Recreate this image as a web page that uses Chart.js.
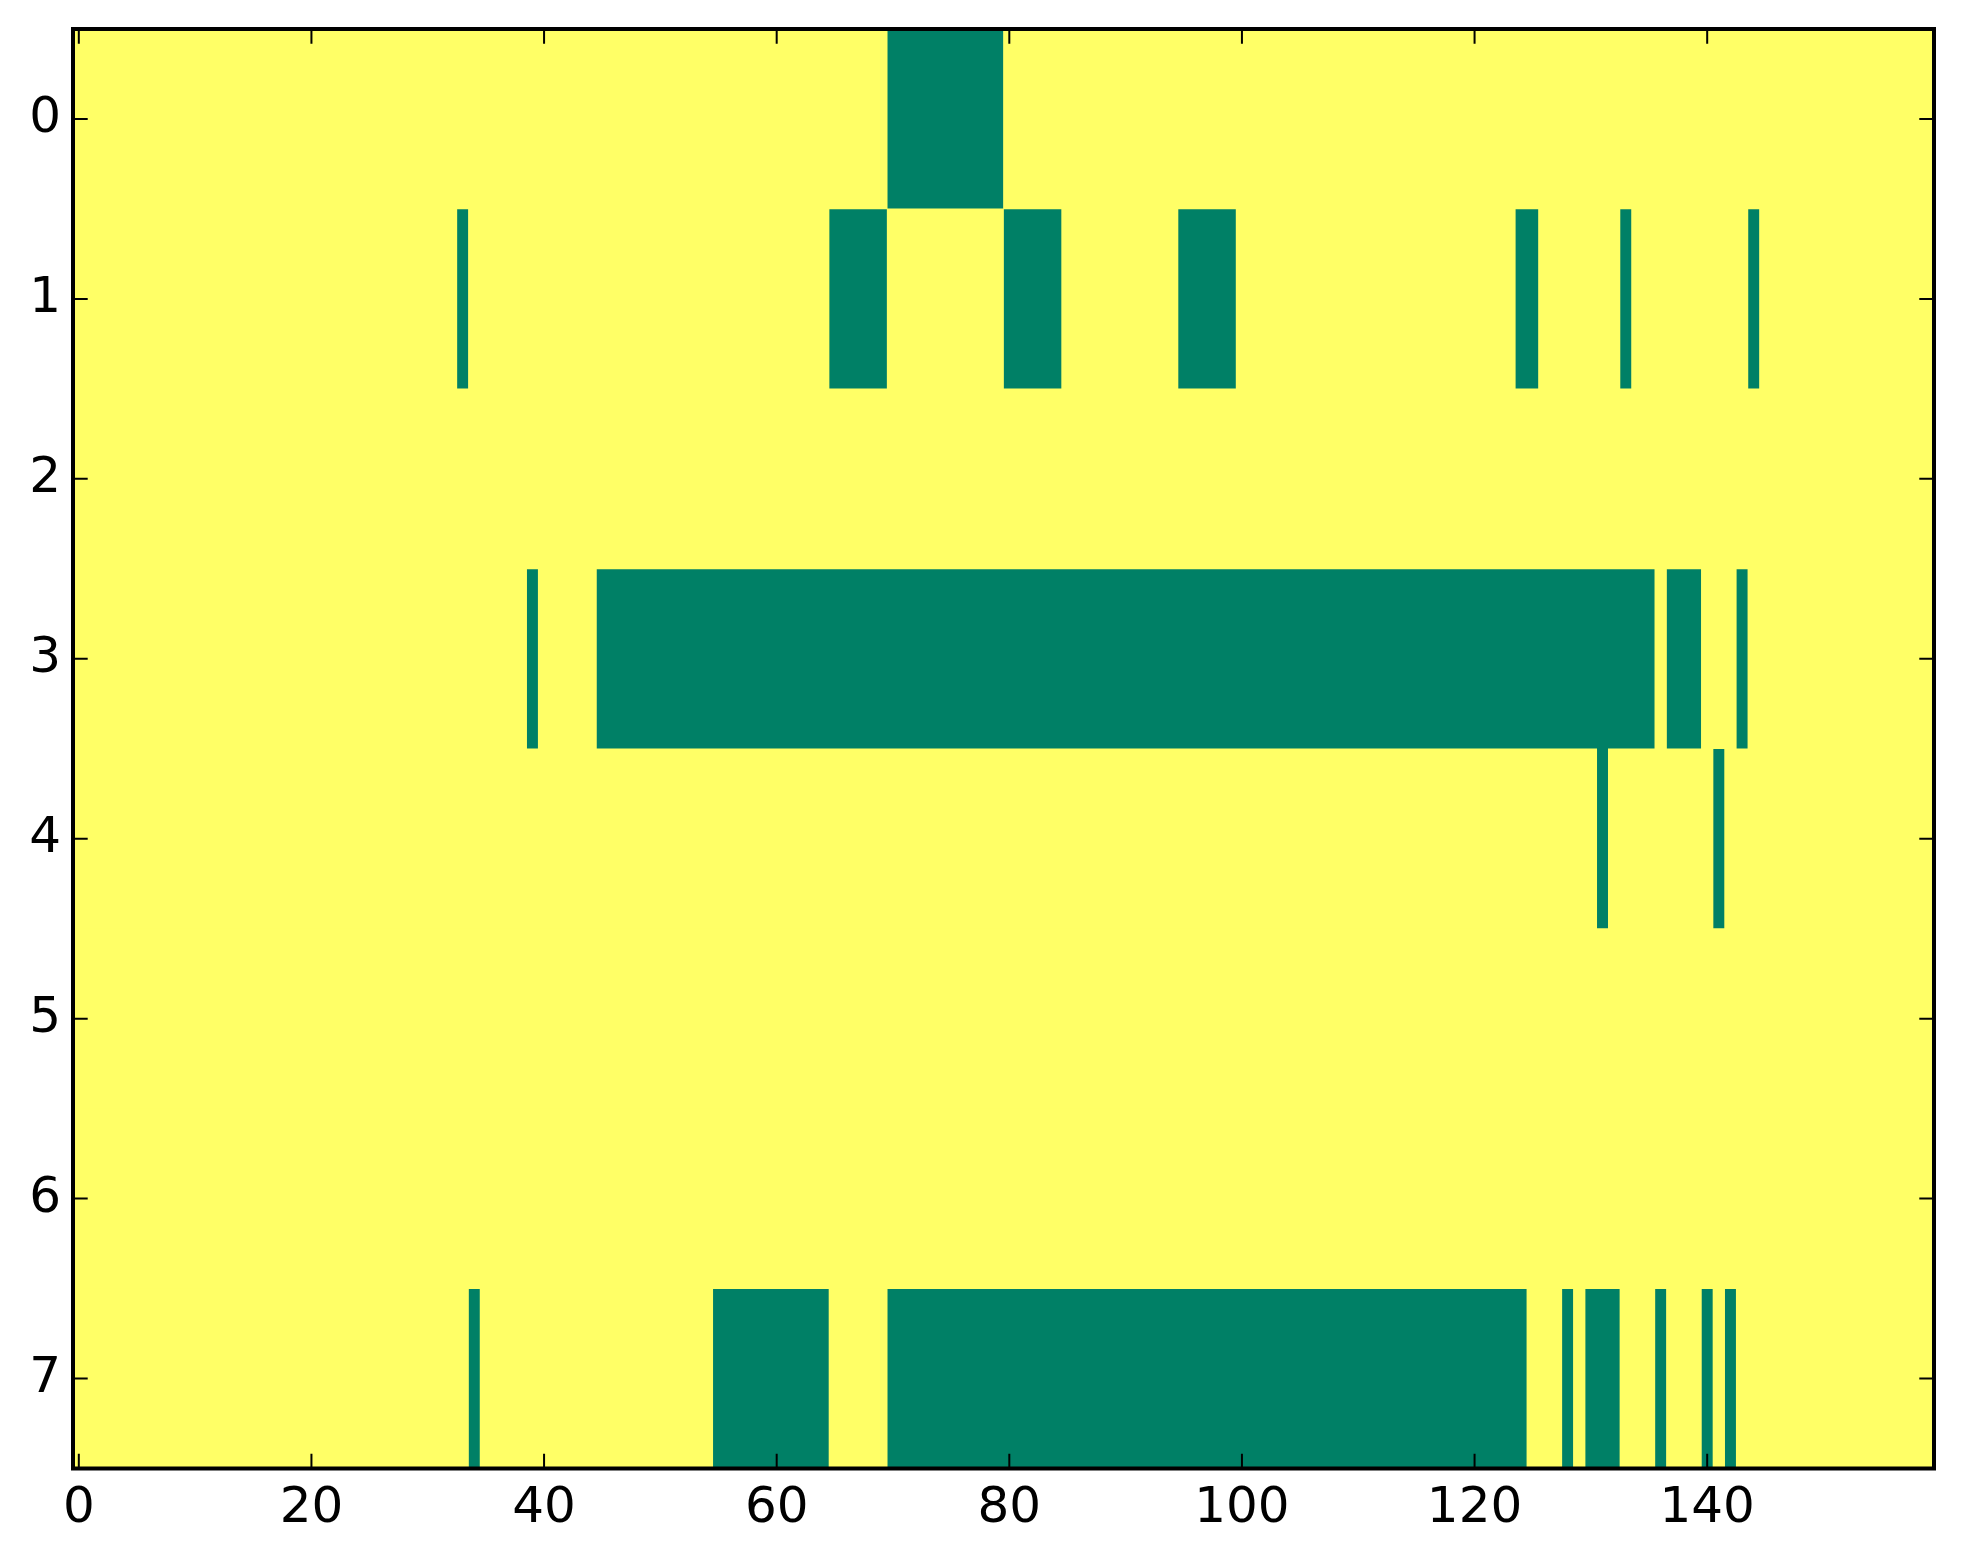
<!DOCTYPE html>
<html>
<head>
<meta charset="utf-8">
<script src="https://cdn.jsdelivr.net/npm/chart.js@4.4.1/dist/chart.umd.min.js"></script>
<style>
html,body{margin:0;padding:0;background:#fff;overflow:hidden;}
canvas{display:block;}
</style>
</head>
<body>
<canvas id="c" width="1963" height="1564"></canvas>
<script>
// ---- data ----
const rowLabels = ['0','1','2','3','4','5','6','7'];
const nCols = 160;
const xTickValues = [0,20,40,60,80,100,120,140];
// runs of green (low-value) cells per row, [firstCol, lastCol]
const greenRow0 = [[70,79]];
const greenRow1 = [[33,33],[65,69],[80,84],[95,99],[124,125],[133,133],[144,144]];
const greenRow2 = [];
const greenRow3 = [[39,39],[45,135],[137,139],[143,143]];
const greenRow4 = [[131,131],[141,141]];
const greenRow5 = [];
const greenRow6 = [];
const greenRow7 = [[34,34],[55,64],[70,124],[128,128],[130,132],[136,136],[140,140],[142,142]];
const greenRows = [greenRow0,greenRow1,greenRow2,greenRow3,greenRow4,greenRow5,greenRow6,greenRow7];

const GREEN = '#008066';
const YELLOW = '#ffff66';

// build cell matrix (0 = green, 1 = yellow)
const matrix = greenRows.map(runs => {
  const r = new Array(nCols).fill(1);
  runs.forEach(([a,b]) => { for (let c=a;c<=b;c++) r[c]=0; });
  return r;
});
// convert matrix to horizontal runs of equal value
function runsOf(value){
  const out = [];
  matrix.forEach((row, ri) => {
    let c = 0;
    while (c < nCols) {
      if (row[c] === value) {
        let e = c;
        while (e + 1 < nCols && row[e+1] === value) e++;
        out.push({x:[c-0.5, e+0.5], y: rowLabels[ri]});
        c = e + 1;
      } else c++;
    }
  });
  return out;
}

const frame = {
  id: 'frame',
  afterDraw(chart){
    const {ctx, chartArea:a, scales:{x, y}} = chart;
    const tl = 14.7;
    ctx.save();
    ctx.strokeStyle = '#000';
    ctx.lineWidth = 2;
    ctx.beginPath();
    x.ticks.forEach((t,i) => {
      const px = x.getPixelForTick(i);
      ctx.moveTo(px, a.bottom); ctx.lineTo(px, a.bottom - tl);
      ctx.moveTo(px, a.top); ctx.lineTo(px, a.top + tl);
    });
    y.ticks.forEach((t,i) => {
      const py = y.getPixelForTick(i);
      ctx.moveTo(a.left, py); ctx.lineTo(a.left + tl, py);
      ctx.moveTo(a.right, py); ctx.lineTo(a.right - tl, py);
    });
    ctx.stroke();
    ctx.lineWidth = 4;
    ctx.strokeRect(a.left, a.top, a.right - a.left, a.bottom - a.top);
    ctx.restore();
  }
};

const font = {family: 'DejaVu Sans', size: 50};

new Chart(document.getElementById('c'), {
  type: 'bar',
  data: {
    labels: rowLabels,
    datasets: [
      {label:'1', data: runsOf(1), backgroundColor: YELLOW, borderWidth: 0, grouped: false,
       barPercentage: 1, categoryPercentage: 1},
      {label:'0', data: runsOf(0), backgroundColor: GREEN, borderWidth: 0, grouped: false,
       barPercentage: 1, categoryPercentage: 1}
    ]
  },
  options: {
    indexAxis: 'y',
    responsive: false,
    devicePixelRatio: 1,
    animation: false,
    layout: {padding: {top: 29, right: 29, left: 0, bottom: 0}},
    plugins: {legend: {display: false}, tooltip: {enabled: false}},
    scales: {
      x: {
        type: 'linear',
        position: 'bottom',
        min: -0.5,
        max: nCols - 0.5,
        grid: {display: false, drawTicks: false},
        border: {display: false},
        afterBuildTicks: s => { s.ticks = xTickValues.map(v => ({value: v})); },
        ticks: {font, color: '#000', padding: 11, maxRotation: 0, autoSkip: false,
                callback: v => String(v)},
        afterFit: s => { s.height = 95.5; s.paddingLeft = 0; s.paddingRight = 0; }
      },
      y: {
        type: 'category',
        offset: true,
        grid: {display: false, drawTicks: false},
        border: {display: false},
        ticks: {font, color: '#000', padding: 12},
        afterFit: s => { s.width = 73; s.paddingTop = 0; s.paddingBottom = 0; }
      }
    }
  },
  plugins: [frame]
});
</script>
</body>
</html>
